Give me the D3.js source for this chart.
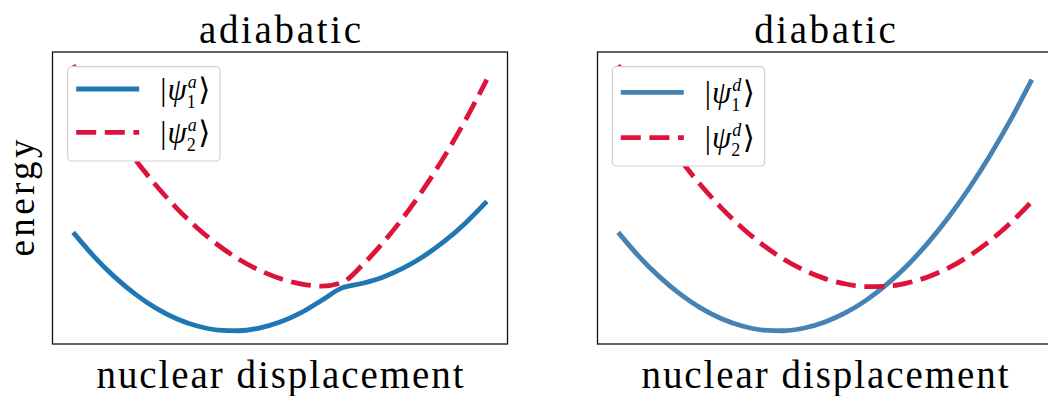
<!DOCTYPE html>
<html>
<head>
<meta charset="utf-8">
<script src="https://cdn.jsdelivr.net/npm/d3@7"></script>
<style>
  html, body { margin: 0; padding: 0; background: #fff; }
  svg { display: block; }
  text { font-family: "Liberation Serif", "DejaVu Serif", serif; fill: #000; }
</style>
</head>
<body>
<svg id="chart" width="1048" height="396"></svg>
<script>
// Nuclear displacement grid (arbitrary units)
const displacement = [-2.0, -1.8, -1.6, -1.4, -1.2, -1.0, -0.8, -0.6, -0.4, -0.2, 0.0,
                      0.2, 0.4, 0.6, 0.8, 1.0, 1.2, 1.4, 1.6, 1.8, 2.0];

// Diabatic potential energy curves
const diabatic1 = [0.984, 0.745, 0.539, 0.367, 0.227, 0.121, 0.048, 0.008, 0.001, 0.028, 0.088,
                   0.181, 0.307, 0.466, 0.658, 0.884, 1.143, 1.435, 1.760, 2.118, 2.510];
const diabatic2 = [2.654, 2.311, 1.997, 1.711, 1.455, 1.227, 1.028, 0.858, 0.717, 0.605, 0.522,
                   0.468, 0.442, 0.446, 0.479, 0.541, 0.632, 0.753, 0.904, 1.084, 1.293];

// Adiabatic potential energy curves (lower / upper)
const adiabatic1 = [0.984, 0.745, 0.539, 0.367, 0.227, 0.121, 0.048, 0.008, 0.001, 0.027, 0.087,
                    0.179, 0.303, 0.429, 0.476, 0.539, 0.631, 0.752, 0.903, 1.083, 1.293];
const adiabatic2 = [2.654, 2.311, 1.997, 1.711, 1.455, 1.227, 1.028, 0.858, 0.717, 0.606, 0.523,
                    0.470, 0.447, 0.483, 0.661, 0.886, 1.144, 1.436, 1.761, 2.119, 2.510];

const panelTitles = ["adiabatic", "diabatic"];
const xLabel = "nuclear displacement";
const yLabel = "energy";
const stateLabels = [["a", "1"], ["a", "2"]];
const stateLabelsD = [["d", "1"], ["d", "2"]];

const svg = d3.select("#chart");

const panels = [
  { title: panelTitles[0], left: 52.5, series: [adiabatic1, adiabatic2],
    colors: ["#1f77b4", "#dc143c"], labels: stateLabels,
    legend: { x: 67.7, y: 66.7, w: 152.3, h: 94.3, rows: [89, 132.3], base: [99.5, 142.5] },
    titleW: 162 },
  { title: panelTitles[1], left: 597.5, series: [diabatic1, diabatic2],
    colors: ["steelblue", "#dc143c"], labels: stateLabelsD,
    legend: { x: 612.3, y: 66.7, w: 152.4, h: 99.3, rows: [92.3, 137.7], base: [102.5, 147.5] },
    titleW: 141.7 }
];

const axW = 455, axTop = 52, axBottom = 344;
const scriptSize = 18;

// width of a short string at a given size / style
function textWidth(str, size, italic) {
  const t = svg.append("text").attr("font-size", size)
    .attr("font-style", italic ? "italic" : "normal").text(str);
  const w = t.node().getComputedTextLength();
  t.remove();
  return w;
}

panels.forEach((p) => {
  const all = p.series.flat();
  const lo = d3.min(all), hi = d3.max(all), pad = 0.05 * (hi - lo);
  const x0 = d3.min(displacement), x1 = d3.max(displacement), xpad = 0.05 * (x1 - x0);

  const x = d3.scaleLinear().domain([x0 - xpad, x1 + xpad]).range([p.left, p.left + axW]);
  const y = d3.scaleLinear().domain([lo - pad, hi + pad]).range([axBottom, axTop]);

  const g = svg.append("g");

  const line = d3.line()
    .x((d, i) => x(displacement[i]))
    .y(d => y(d))
    .curve(d3.curveMonotoneX);

  // curves
  g.append("path").datum(p.series[0])
    .attr("d", line).attr("fill", "none")
    .attr("stroke", p.colors[0]).attr("stroke-width", 4.8);
  g.append("path").datum(p.series[1])
    .attr("d", line).attr("fill", "none")
    .attr("stroke", p.colors[1]).attr("stroke-width", 4.8)
    .attr("stroke-dasharray", "20,8.6");

  // axes frame (no ticks)
  g.append("rect")
    .attr("x", p.left).attr("y", axTop)
    .attr("width", axW).attr("height", axBottom - axTop)
    .attr("fill", "none").attr("stroke", "#111").attr("stroke-width", 1.3);

  // title
  g.append("text")
    .attr("x", p.left + axW / 2).attr("y", 42.5)
    .attr("text-anchor", "middle")
    .attr("font-size", 39)
    .attr("textLength", p.titleW).attr("lengthAdjust", "spacing")
    .text(p.title);

  // x label
  g.append("text")
    .attr("x", p.left + axW / 2).attr("y", 388)
    .attr("text-anchor", "middle")
    .attr("font-size", 39)
    .attr("textLength", 367).attr("lengthAdjust", "spacing")
    .text(xLabel);

  // legend
  const L = p.legend;
  const lg = g.append("g");
  lg.append("rect")
    .attr("x", L.x).attr("y", L.y).attr("width", L.w).attr("height", L.h)
    .attr("rx", 4).attr("ry", 4)
    .attr("fill", "#fff").attr("stroke", "#cfcfcf").attr("stroke-width", 1.2);

  p.labels.forEach((lab, k) => {
    const ly = L.rows[k];
    const hl = lg.append("line")
      .attr("x1", L.x + 8.5).attr("x2", L.x + 71.5)
      .attr("y1", ly).attr("y2", ly)
      .attr("stroke", p.colors[k]).attr("stroke-width", 4.8);
    if (k === 1) hl.attr("stroke-dasharray", "20,8.6");

    // ket |ψ_n^s⟩ as one text with stacked scripts
    const supW = textWidth(lab[0], scriptSize, true);
    const subW = textWidth(lab[1], scriptSize, false);
    const t = lg.append("text").attr("x", L.x + 92.5).attr("y", L.base[k])
      .attr("font-size", 31);
    t.append("tspan").text("|");
    t.append("tspan").attr("dx", 1).attr("font-style", "italic").text("ψ");
    t.append("tspan").attr("dx", 1).attr("dy", -11.5)
      .attr("font-size", scriptSize).attr("font-style", "italic").text(lab[0]);
    t.append("tspan").attr("dx", -supW - 1).attr("dy", 20)
      .attr("font-size", scriptSize).text(lab[1]);
    t.append("tspan").attr("dx", Math.max(supW - subW, 0) + 2.5).attr("dy", -8.5).text("⟩");
  });
});

// shared y label
svg.append("text")
  .attr("transform", "translate(33.5,198) rotate(-90)")
  .attr("text-anchor", "middle")
  .attr("font-size", 37)
  .attr("textLength", 117).attr("lengthAdjust", "spacing")
  .text(yLabel);
</script>
</body>
</html>
